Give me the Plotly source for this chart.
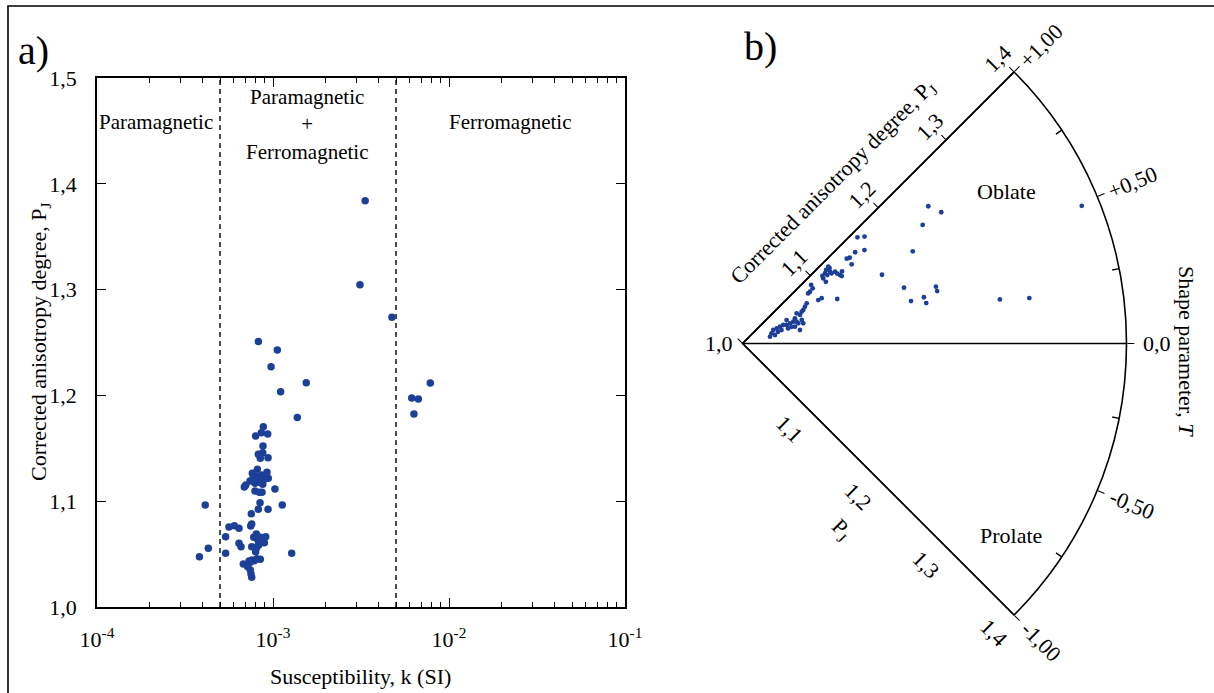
import numpy as np
import plotly.graph_objects as go

W, H = 1214, 693
BLUE = "#1c3f98"
FONT = "Liberation Serif"
FS = 22

# ---------------- a) susceptibility vs corrected anisotropy degree ----------------
susceptibility = [
    8.26e-4, 1.058e-3, 9.75e-4, 1.545e-3, 1.105e-3, 1.374e-3,
    6.14e-3, 6.70e-3, 6.32e-3, 7.83e-3,
    3.34e-3, 3.12e-3, 4.74e-3,
    8.81e-4, 8.58e-4, 9.33e-4, 7.97e-4, 8.77e-4, 8.25e-4, 8.74e-4, 8.47e-4, 9.37e-4,
    8.14e-4, 7.63e-4, 8.63e-4, 9.24e-4, 7.70e-4, 8.11e-4, 9.40e-4, 8.86e-4, 7.90e-4,
    8.74e-4, 7.00e-4, 6.87e-4, 1.026e-3, 7.90e-4, 8.36e-4, 8.66e-4, 8.44e-4, 1.129e-3,
    8.25e-4, 9.37e-4, 7.53e-4, 7.57e-4, 7.47e-4, 5.62e-4, 6.03e-4, 6.41e-4, 5.38e-4,
    8.04e-4, 7.77e-4, 9.09e-4, 8.25e-4, 8.93e-4, 7.57e-4, 8.08e-4, 6.41e-4, 6.58e-4,
    5.38e-4, 7.97e-4, 1.277e-3, 8.47e-4, 7.83e-4, 7.31e-4, 6.78e-4, 7.18e-4, 7.43e-4,
    7.50e-4, 7.57e-4,
    4.12e-4, 4.29e-4, 3.82e-4,
    8.50e-4, 8.30e-4, 8.00e-4, 7.60e-4, 8.10e-4, 7.40e-4, 8.20e-4, 7.40e-4, 8.00e-4,
]
pj_a = [
    1.251, 1.243, 1.227, 1.212, 1.2035, 1.179,
    1.1975, 1.1966, 1.1824, 1.2117,
    1.384, 1.3047, 1.2738,
    1.1704, 1.1647, 1.1635, 1.1616, 1.1522, 1.1443, 1.1458, 1.1405, 1.1411,
    1.1302, 1.1264, 1.1248, 1.1273, 1.1216, 1.1198, 1.1216, 1.1203, 1.1169,
    1.1160, 1.1153, 1.1134, 1.1115, 1.1096, 1.1084, 1.1084, 1.0986, 1.0964,
    1.0923, 1.0923, 1.0882, 1.0785, 1.0766, 1.0756, 1.0768, 1.0744, 1.0664,
    1.0690, 1.0659, 1.0664, 1.0621, 1.0608, 1.0570, 1.0564, 1.0602, 1.0570,
    1.0508, 1.0523, 1.0508, 1.0451, 1.0438, 1.0435, 1.0406, 1.0381, 1.0350,
    1.0312, 1.0281,
    1.0964, 1.0555, 1.0475,
    1.0660, 1.0585, 1.0555, 1.0445, 1.0455, 1.0420, 1.1180, 1.1190, 1.1235,
]

region_limits = [5e-4, 5e-3]
k_range_log = [-4, -1]
pj_range_a = [1.0, 1.5]
k_tickvals = [1e-4, 1e-3, 1e-2, 1e-1]
k_ticktext = ["10<sup>-4</sup>", "10<sup>-3</sup>", "10<sup>-2</sup>", "10<sup>-1</sup>"]
pj_tickvals_a = [1.0, 1.1, 1.2, 1.3, 1.4, 1.5]

# ---------------- b) Jelinek plot: Pj (radius) vs shape parameter T (angle) ----------------
pj_b = [
    1.2406, 1.2481, 1.2247, 1.2017, 1.1620, 1.1780, 1.2100, 1.2100, 1.1810, 1.1950,
    1.1960, 1.2720, 1.3025, 1.3814,
    1.1630, 1.1690, 1.1600, 1.1510, 1.1405, 1.1400, 1.1430, 1.1090, 1.0950, 1.0910,
    1.1200, 1.1160, 1.1180, 1.1130, 1.1090, 1.1135, 1.1180, 1.1220, 1.1226, 1.1240,
    1.1280, 1.1200, 1.1080, 1.1080, 1.0940, 1.0930, 1.0886, 1.0860, 1.1250,
    1.0789, 1.0755, 1.0723, 1.0700, 1.0669, 1.0646, 1.0606, 1.0576, 1.0618, 1.0664,
    1.0538, 1.0499, 1.0467, 1.0428, 1.0390, 1.0350, 1.0320, 1.0295, 1.0350, 1.0390,
    1.0520, 1.0540, 1.0608, 1.0667, 1.0615, 1.0574, 1.0430, 1.0500,
]
shape_t = [
    0.810, 0.743, 0.741, 0.632, 0.583, 0.424, 0.364, 0.335, 0.314, 0.318,
    0.276, 0.216, 0.200, 0.491,
    0.950, 0.916, 0.832, 0.867, 0.799, 0.870, 0.859, 0.559, 0.662, 0.663,
    0.930, 0.919, 0.875, 0.898, 0.894, 0.865, 0.849, 0.840, 0.808, 0.780,
    0.798, 0.909, 0.864, 0.811, 0.900, 0.848, 0.833, 0.830, 0.760,
    0.712, 0.678, 0.641, 0.628, 0.586, 0.647, 0.570, 0.516, 0.442, 0.481,
    0.512, 0.505, 0.542, 0.536, 0.532, 0.526, 0.428, 0.309, 0.326, 0.405,
    0.622, 0.419, 0.487, 0.408, 0.294, 0.394, 0.422, 0.408,
]

pj_range_b = [1.0, 1.4]
pj_ticks_b = [1.0, 1.1, 1.2, 1.3, 1.4]
t_major = [-1.0, -0.5, 0.0, 0.5, 1.0]
t_major_text = ["-1,00", "-0,50", "0,0", "+0,50", "+1,00"]
t_minor = [-0.75, -0.25, 0.25, 0.75]
T_TO_DEG = 45.0  # T = +/-1 spans +/-45 degrees

# geometry of the fan (pixels)
CX, CY = 742.5, 343.5
RPX = 384.0
PX_PER_PJ = RPX / (pj_range_b[1] - pj_range_b[0])


def fan_paper(pj, ang_deg, perp_px=0.0, along_px=0.0):
    """Paper coordinates of a point on the fan, with optional pixel offsets."""
    a = np.radians(ang_deg)
    rr = (pj - pj_range_b[0]) * PX_PER_PJ + along_px
    mx = rr * np.cos(a) - perp_px * np.sin(a)
    my = rr * np.sin(a) + perp_px * np.cos(a)
    return (CX + mx) / W, 1 - (CY - my) / H


fig = go.Figure()

# region boundaries
for lim in region_limits:
    fig.add_trace(go.Scatter(
        x=[lim, lim], y=pj_range_a, mode="lines", xaxis="x", yaxis="y",
        line=dict(color="#222222", width=1.6, dash="5px,4px"),
        hoverinfo="skip", showlegend=False))

fig.add_trace(go.Scatter(
    x=susceptibility, y=pj_a, mode="markers", xaxis="x", yaxis="y",
    marker=dict(size=7.5, color=BLUE), showlegend=False))

# fan frame: horizontal T = 0 line and lower (T = -1) edge
fig.add_trace(go.Scatterpolar(
    r=[pj_range_b[0], pj_range_b[1], None, pj_range_b[0], pj_range_b[1]],
    theta=[0, 0, None, -T_TO_DEG, -T_TO_DEG],
    mode="lines", line=dict(color="black", width=1.6), cliponaxis=False,
    hoverinfo="skip", showlegend=False))

# inward minor ticks on the arc
tick_in = 7 / PX_PER_PJ
r_minor, th_minor = [], []
for t in t_minor:
    r_minor += [pj_range_b[1], pj_range_b[1] - tick_in, None]
    th_minor += [t * T_TO_DEG, t * T_TO_DEG, None]
fig.add_trace(go.Scatterpolar(
    r=r_minor, theta=th_minor, mode="lines", line=dict(color="black", width=1.4),
    cliponaxis=False, hoverinfo="skip", showlegend=False))

# outward ticks along the lower edge
tick_len = 6 / PX_PER_PJ
r_low, th_low = [], []
for p in pj_ticks_b:
    rr = p - pj_range_b[0]
    r_low += [p, pj_range_b[0] + np.hypot(rr, tick_len), None]
    th_low += [-T_TO_DEG, -T_TO_DEG - np.degrees(np.arctan2(tick_len, rr)), None]
fig.add_trace(go.Scatterpolar(
    r=r_low, theta=th_low, mode="lines", line=dict(color="black", width=1.4),
    cliponaxis=False, hoverinfo="skip", showlegend=False))

fig.add_trace(go.Scatterpolar(
    r=pj_b, theta=[t * T_TO_DEG for t in shape_t], mode="markers",
    marker=dict(size=4.8, color=BLUE), cliponaxis=False, showlegend=False))

ann = []


def add_text(x, y, text, size=FS, angle=0, xanchor="center", yanchor="middle"):
    ann.append(dict(x=x, y=y, xref="paper", yref="paper", text=text, showarrow=False,
                    textangle=angle, xanchor=xanchor, yanchor=yanchor,
                    font=dict(family=FONT, size=size, color="black")))


# panel a text
add_text(33 / W, 1 - 50 / H, "a)", size=40)
add_text(156 / W, 1 - 122 / H, "Paramagnetic", size=21)
add_text(307 / W, 1 - 124 / H, "Paramagnetic<br>+<br>Ferromagnetic", size=21)
add_text(510 / W, 1 - 122 / H, "Ferromagnetic", size=21)
add_text(40 / W, 1 - 342 / H, "Corrected anisotropy degree, P<sub>J</sub>", angle=-90)
add_text(360 / W, 1 - 676 / H, "Susceptibility, k (SI)")

# panel b text
add_text(760 / W, 1 - 47 / H, "b)", size=40)
for p in pj_ticks_b[1:]:
    x, y = fan_paper(p, T_TO_DEG, perp_px=21, along_px=-2)
    add_text(x, y, f"{p:.1f}".replace(".", ","), angle=-45)
    x, y = fan_paper(p, -T_TO_DEG, perp_px=-27, along_px=-2)
    add_text(x, y, f"{p:.1f}".replace(".", ","), angle=45)
x, y = fan_paper(1.185, T_TO_DEG, perp_px=50)
add_text(x, y, "Corrected anisotropy degree, P<sub>J</sub>", angle=-45)
x, y = fan_paper(1.21, -T_TO_DEG, perp_px=-62)
add_text(x, y, "P<sub>J</sub>", angle=45)
add_text((CX - 8) / W, 1 - CY / H, "1,0", xanchor="right")
for t, lab in zip(t_major, t_major_text):
    extra = 30 if t == 0 else 38
    x, y = fan_paper(pj_range_b[1] + extra / PX_PER_PJ, t * T_TO_DEG)
    add_text(x, y, lab, angle=-t * T_TO_DEG)
add_text(1186 / W, 1 - 351 / H, "Shape parameter, <i>T</i>", angle=90)
add_text(1006 / W, 1 - 192 / H, "Oblate")
add_text(1011 / W, 1 - 535 / H, "Prolate")

axis_common = dict(showline=True, linecolor="black", linewidth=1.6, mirror="allticks",
                   ticks="inside", tickcolor="black", showgrid=False, zeroline=False,
                   automargin=False,
                   tickfont=dict(family=FONT, size=FS, color="black"))

fig.update_layout(
    width=W, height=H,
    margin=dict(l=0, r=0, t=0, b=0, pad=0, autoexpand=False),
    paper_bgcolor="white", plot_bgcolor="white",
    separators=",.",
    showlegend=False,
    xaxis=dict(type="log", range=k_range_log, domain=[97 / W, 625 / W], anchor="y",
               tickvals=k_tickvals, ticktext=k_ticktext, ticklen=9, ticklabelstandoff=12,
               minor=dict(ticks="inside", ticklen=5, tickcolor="black",
                          tickvals=[m * d for d in k_tickvals[:-1] for m in range(2, 10)]),
               **axis_common),
    yaxis=dict(range=pj_range_a, domain=[1 - 607 / H, 1 - 78 / H], anchor="x",
               tickvals=pj_tickvals_a, tickformat=".1f", ticklen=9, ticklabelstandoff=14,
               **axis_common),
    polar=dict(
        domain=dict(x=[CX / W, (CX + RPX) / W],
                    y=[1 - (CY + RPX * np.sin(np.radians(45))) / H,
                       1 - (CY - RPX * np.sin(np.radians(45))) / H]),
        sector=[-45, 45], hole=0, bgcolor="rgba(0,0,0,0)",
        radialaxis=dict(range=pj_range_b, angle=45, side="counterclockwise",
                        tickvals=pj_ticks_b, ticks="outside", ticklen=6, tickcolor="black",
                        tickwidth=1.4, showticklabels=False, showline=True,
                        linecolor="black", linewidth=1.6, showgrid=False),
        angularaxis=dict(rotation=0, direction="counterclockwise",
                         tickvals=[t * T_TO_DEG for t in t_major], ticks="outside",
                         ticklen=7, tickcolor="black", tickwidth=1.4,
                         showticklabels=False, showline=True, linecolor="black",
                         linewidth=1.6, showgrid=False),
    ),
    annotations=ann,
    shapes=[dict(type="rect", xref="paper", yref="paper", x0=8 / W, x1=1.02,
                 y0=-0.02, y1=1 - 6 / H, line=dict(color="black", width=1.6))],
)

fig.write_html("out.html")
